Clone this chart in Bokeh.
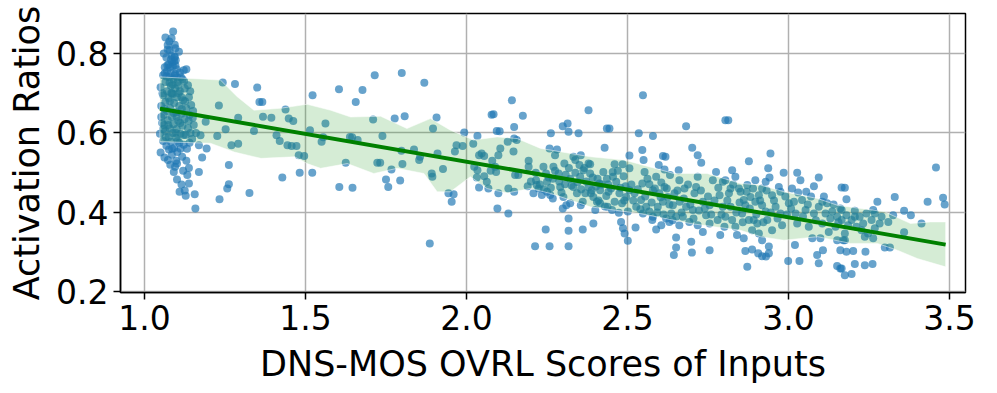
from bokeh.plotting import figure
from bokeh.models import Range1d, FixedTicker, PrintfTickFormatter
from bokeh.embed import file_html
from bokeh.resources import INLINE

# ---- data: scatter points, grouped by region (x = DNS-MOS OVRL, y = activation ratio)
cluster_x = [1.089,1.065,1.084,1.072,1.096,1.107,1.060,1.078,1.068,1.082,1.092,1.075,1.063,1.088,1.100,1.070,
             1.081,1.095,1.058,1.110,1.122,1.130,1.077,1.090,1.065,1.103,1.118,1.135,1.050,1.082,1.095,1.070,
             1.110,1.125,1.058,1.088,1.100,1.075,1.138,1.120,1.065,1.092,1.108,1.052,1.080,1.130,1.145,1.070,
             1.098,1.115,1.060,1.085,1.140,1.150,1.072,1.105,1.125,1.055,1.090,1.118,1.078,1.100,1.135,1.065,
             1.088,1.112,1.048,1.128,1.075,1.098,1.058,1.082,1.108,1.122,1.068,1.092,1.140,1.050,1.076,1.102,
             1.117,1.085,1.073,1.101,1.091,1.101,1.133,1.138,1.109,1.130,1.138,1.120,1.095,1.115,1.125,1.128,
             1.098,1.062,1.080,1.112,1.060,1.100,1.115,1.085,1.104,1.078,1.068,1.096,1.084,1.072,1.086,1.094,
             1.169,1.174,1.179,1.169,1.156,1.158,1.190,1.193,1.153,1.160,1.079,1.087,1.093,1.083,1.097,
             1.052,1.058,1.062,1.066,1.074,1.079,1.086,1.091,1.097,1.103,1.106,1.111,1.116,1.121,1.126,1.132,
             1.137,1.143,1.148,1.113,1.123,1.142,1.151,1.056,1.063,1.071,1.093,1.101,1.094,1.077]
cluster_y = [0.855,0.840,0.838,0.821,0.813,0.804,0.800,0.808,0.790,0.785,0.780,0.772,0.765,0.768,0.760,0.755,
             0.750,0.748,0.745,0.752,0.758,0.760,0.740,0.735,0.728,0.728,0.735,0.720,0.715,0.718,0.712,0.705,
             0.705,0.712,0.695,0.698,0.690,0.688,0.690,0.682,0.678,0.675,0.668,0.668,0.662,0.662,0.670,0.655,
             0.652,0.648,0.645,0.640,0.645,0.638,0.632,0.630,0.635,0.625,0.622,0.618,0.612,0.610,0.612,0.605,
             0.600,0.598,0.598,0.595,0.590,0.588,0.580,0.578,0.575,0.570,0.568,0.562,0.575,0.551,0.558,0.552,
             0.540,0.545,0.532,0.523,0.502,0.483,0.494,0.473,0.452,0.530,0.512,0.505,0.515,0.470,0.455,0.442,
             0.530,0.538,0.520,0.560,0.620,0.640,0.690,0.700,0.720,0.726,0.742,0.770,0.795,0.810,0.778,0.792,
             0.569,0.594,0.538,0.502,0.446,0.410,0.628,0.561,0.620,0.600,0.765,0.722,0.744,0.700,0.783,
             0.640,0.610,0.660,0.590,0.620,0.680,0.560,0.650,0.600,0.580,0.700,0.625,0.660,0.595,0.680,0.560,
             0.630,0.600,0.585,0.740,0.730,0.705,0.655,0.700,0.750,0.770,0.790,0.740,0.822,0.830]

left_x = [1.243,1.281,1.350,1.357,1.231,1.291,1.252,1.340,1.226,1.270,1.291,1.262,1.257,1.262,1.233,1.326,
          1.366,1.368,1.394,1.438,1.448,1.462,1.410,1.420,1.444,1.457,1.472,1.479,1.496,1.428,1.482,1.521,
          1.514,1.522,1.562,1.550,1.555,1.604,1.656,1.677,1.715,1.710,1.638,1.645,1.662,1.625,1.605,1.646,1.723]
left_y = [0.727,0.723,0.714,0.678,0.669,0.638,0.609,0.605,0.592,0.569,0.573,0.519,0.460,0.471,0.433,0.449,
          0.678,0.641,0.638,0.659,0.636,0.630,0.594,0.580,0.569,0.567,0.567,0.544,0.542,0.488,0.500,0.500,
          0.607,0.695,0.624,0.578,0.589,0.710,0.678,0.708,0.745,0.634,0.590,0.589,0.582,0.525,0.464,0.462,0.525]

mid_x = [1.799,1.869,1.777,1.808,1.907,1.896,1.739,1.993,2.034,2.078,1.732,1.750,1.757,1.767,1.794,1.801,
         1.798,1.837,1.853,1.856,1.910,1.927,1.892,1.894,1.969,1.964,1.988,2.021,1.944,1.960,1.954,1.886,
         2.039,2.047,2.055,2.024,2.034,2.032,2.055,2.063,2.039,2.068,2.080,2.075,
         2.141,2.175,2.084,2.094,2.103,2.148,2.148,2.156,2.128,2.105,2.099,2.089,2.092,2.146,2.151,2.161,
         2.130,2.148,2.099,2.096,2.130,2.193,2.193,2.190,2.216,2.218,2.239,2.247,2.250,2.258,2.281,2.275,
         2.262,2.270,2.268,2.250,2.234,2.260,2.268,2.299,2.314,2.317,2.348,2.304,2.306,2.301,2.310,2.299,
         2.322,2.317,2.317,2.317,2.258,2.213,2.246,2.361,2.394,2.332,2.338,2.355,2.351,2.379,2.384,2.363,
         2.353,2.343,2.361,2.355,2.379,2.436,2.429,2.379,2.389,2.407,2.413,2.405,2.415,2.400,2.436,2.434,
         2.438,2.208,2.224,2.286,2.322,2.332,2.369,2.394,2.415,2.425,2.441,2.384,2.291]
mid_y = [0.751,0.726,0.636,0.642,0.639,0.611,0.592,0.601,0.592,0.646,0.525,0.483,0.464,0.508,0.480,0.522,
         0.555,0.558,0.532,0.540,0.548,0.509,0.498,0.490,0.569,0.553,0.567,0.573,0.448,0.446,0.427,0.322,
         0.544,0.548,0.542,0.515,0.506,0.488,0.491,0.477,0.463,0.460,0.530,0.505,
         0.682,0.643,0.647,0.605,0.604,0.615,0.586,0.582,0.578,0.561,0.544,0.515,0.502,0.553,0.494,0.494,
         0.460,0.452,0.448,0.410,0.397,0.530,0.515,0.466,0.481,0.469,0.515,0.498,0.477,0.561,0.558,0.544,
         0.599,0.515,0.485,0.452,0.444,0.444,0.435,0.617,0.624,0.603,0.599,0.523,0.471,0.439,0.418,0.410,
         0.423,0.385,0.354,0.315,0.315,0.315,0.357,0.357,0.372,0.540,0.532,0.544,0.519,0.523,0.521,0.506,
         0.490,0.448,0.427,0.418,0.657,0.611,0.563,0.464,0.456,0.485,0.473,0.427,0.423,0.406,0.485,0.441,
         0.414,0.448,0.460,0.498,0.485,0.464,0.448,0.439,0.456,0.502,0.452,0.498,0.464]

right_x = [2.548,2.444,2.535,2.579,2.682,2.804,2.701,2.718,2.729,2.546,2.550,2.506,2.610,2.618,2.597,2.615,
           2.632,2.659,2.775,2.480,2.486,2.491,2.501,2.525,2.589,2.651,2.651,2.644,2.698,2.700,2.755,2.734,
           2.788,2.577,
           2.460,2.485,2.454,2.488,2.465,2.449,2.475,2.496,2.460,2.483,2.452,2.473,2.501,2.494,2.506,
           2.546,2.568,2.605,2.579,2.522,2.542,2.558,2.568,2.594,2.610,2.599,2.625,2.641,2.636,2.651,2.620,
           2.579,2.548,2.527,2.615,2.646,2.662,2.677,2.682,2.672,2.703,2.708,2.718,2.713,2.734,2.744,2.755,
           2.765,2.786,2.796,2.780,2.755,2.718,2.692,2.661,2.630,2.605,2.801,2.796,2.661,2.589,2.553,2.506]
right_y = [0.695,0.611,0.599,0.592,0.617,0.632,0.563,0.544,0.525,0.557,0.532,0.543,0.542,0.540,0.519,0.508,
           0.494,0.506,0.502,0.376,0.360,0.347,0.329,0.362,0.357,0.337,0.312,0.293,0.326,0.299,0.305,0.351,
           0.343,0.381,
           0.521,0.521,0.502,0.491,0.477,0.460,0.448,0.439,0.427,0.423,0.406,0.399,0.402,0.466,0.456,
           0.473,0.471,0.475,0.456,0.448,0.431,0.414,0.402,0.414,0.427,0.448,0.439,0.418,0.397,0.389,0.385,
           0.389,0.397,0.414,0.464,0.448,0.427,0.460,0.414,0.389,0.406,0.448,0.490,0.464,0.427,0.393,0.418,
           0.481,0.443,0.414,0.381,0.372,0.368,0.376,0.368,0.376,0.368,0.364,0.477,0.481,0.490,0.502,0.511]

far_x = [2.813,2.877,2.944,2.937,2.941,2.929,2.825,2.835,2.872,2.851,2.985,3.027,3.037,3.094,3.079,3.055,
         3.011,2.975,3.165,2.866,2.872,2.887,2.906,2.918,2.930,2.939,2.939,2.861,2.840,2.999,3.034,3.094,
         3.089,3.107,3.020,3.074,3.151,3.161,3.161,
         2.804,2.815,2.820,2.804,2.825,2.835,2.856,2.866,2.861,2.882,2.897,2.908,2.918,2.892,2.903,2.877,
         2.887,2.908,2.918,2.934,2.929,2.949,2.960,2.975,2.980,2.949,3.001,3.017,3.022,3.027,3.042,3.053,
         3.063,3.079,3.094,3.105,3.115,3.105,3.120,3.136,3.151,3.161,3.146,3.125,3.099,3.151,2.820,2.846,
         2.918,2.970,2.897]
far_y = [0.632,0.529,0.548,0.511,0.488,0.477,0.506,0.490,0.469,0.452,0.500,0.500,0.481,0.488,0.466,0.452,
         0.460,0.452,0.463,0.303,0.263,0.307,0.297,0.290,0.289,0.297,0.314,0.335,0.343,0.278,0.278,0.272,
         0.293,0.305,0.318,0.335,0.265,0.259,0.305,
         0.481,0.448,0.414,0.389,0.381,0.364,0.397,0.418,0.431,0.439,0.427,0.443,0.418,0.381,0.372,0.381,
         0.355,0.347,0.330,0.381,0.402,0.443,0.414,0.397,0.368,0.355,0.423,0.427,0.397,0.372,0.431,0.406,
         0.364,0.397,0.414,0.427,0.397,0.372,0.423,0.402,0.389,0.410,0.364,0.351,0.335,0.330,0.460,0.460,
         0.460,0.464,0.481]

end_x = [3.458,3.480,3.485,3.432,3.413,3.380,3.359,3.330,3.325,3.359,3.310,3.276,3.263,3.289,3.175,3.180,
         3.206,3.206,3.232,3.237,3.263,3.299,3.315,3.239,3.201,3.180,3.206,3.237,3.261,3.165,3.175,3.196,
         3.175,3.165,3.180,3.196,3.211,3.227,3.247,3.258,3.268,3.221,3.185,3.175,3.165,3.170,3.242,3.268,3.283]
end_y = [0.513,0.437,0.420,0.427,0.372,0.393,0.404,0.439,0.393,0.350,0.376,0.427,0.406,0.389,0.462,0.433,
         0.404,0.389,0.372,0.339,0.335,0.312,0.312,0.301,0.303,0.301,0.270,0.267,0.270,0.259,0.242,0.245,
         0.330,0.406,0.393,0.381,0.364,0.355,0.347,0.381,0.360,0.389,0.368,0.347,0.381,0.330,0.397,0.397,0.372]

dense_x = [2.200,2.215,2.228,2.240,2.255,2.262,2.275,2.288,2.295,2.308,2.318,2.326,2.338,2.345,2.356,2.366,
           2.372,2.386,2.392,2.402,2.410,2.420,2.430,2.440,
           2.455,2.470,2.478,2.490,2.512,2.518,2.532,2.540,2.555,2.562,2.575,2.585,2.592,2.603,2.612,2.622,
           2.630,2.640,2.655,2.668,2.675,2.688,2.695,2.705,2.722,2.728,2.740,2.750,2.760,2.770,2.782,2.792,
           2.810,2.828,2.838,2.848,2.858,2.870,2.880,2.890,2.900,2.912,2.922,2.932,2.945,2.955,2.966,2.990,
           2.995,3.008,3.030,3.045,3.060,3.070,3.085,3.110,3.130,3.140,3.155]
dense_y = [0.478,0.500,0.470,0.458,0.488,0.462,0.505,0.478,0.450,0.495,0.512,0.468,0.500,0.476,0.458,0.512,
           0.478,0.448,0.488,0.465,0.430,0.470,0.415,0.470,
           0.490,0.505,0.462,0.430,0.470,0.430,0.458,0.408,0.440,0.485,0.425,0.460,0.400,0.438,0.395,0.460,
           0.420,0.380,0.455,0.400,0.435,0.470,0.420,0.385,0.405,0.455,0.410,0.440,0.395,0.430,0.462,0.395,
           0.430,0.470,0.400,0.425,0.375,0.452,0.410,0.460,0.395,0.430,0.375,0.455,0.400,0.430,0.385,0.440,
           0.395,0.410,0.450,0.390,0.420,0.440,0.380,0.440,0.385,0.420,0.375]

# ---- data: shaded band (upper and lower edges) and regression line
band_upper_x = [1.048,1.236,1.288,1.340,1.422,1.505,1.578,1.640,1.733,1.815,1.888,1.950,2.022,2.095,2.157,
                2.230,2.385,2.489,2.644,2.747,2.851,2.913,2.986,3.090,3.152,3.224,3.297,3.379,3.441,3.488]
band_upper_y = [0.741,0.733,0.691,0.657,0.662,0.672,0.657,0.640,0.642,0.611,0.636,0.607,0.582,0.590,0.586,
                0.561,0.540,0.532,0.498,0.498,0.473,0.469,0.452,0.435,0.418,0.410,0.402,0.372,0.376,0.376]
band_lower_x = [1.048,1.205,1.279,1.362,1.466,1.505,1.547,1.630,1.712,1.785,1.868,1.909,1.950,2.012,2.064,
                2.126,2.198,2.260,2.385,2.540,2.696,2.851,2.913,2.986,3.090,3.193,3.276,3.338,3.400,3.488]
band_lower_y = [0.578,0.574,0.552,0.536,0.540,0.523,0.511,0.523,0.498,0.511,0.498,0.452,0.452,0.490,0.460,
                0.449,0.460,0.448,0.414,0.397,0.372,0.355,0.339,0.330,0.339,0.322,0.322,0.305,0.284,0.263]

fit_x = [1.048, 3.488]
fit_y = [0.661, 0.319]

x_ticks = [1.0, 1.5, 2.0, 2.5, 3.0, 3.5]
y_ticks = [0.2, 0.4, 0.6, 0.8]

FONT = "DejaVu Sans"

p = figure(width=985, height=390, output_backend="svg", toolbar_location=None,
           x_range=Range1d(0.9255, 3.5497), y_range=Range1d(0.1985, 0.9005),
           min_border_left=120, min_border_right=20, min_border_top=13, min_border_bottom=98)

p.background_fill_color = "white"
p.border_fill_color = "white"
p.outline_line_color = "black"
p.outline_line_width = 1.5

# grid
p.xgrid.ticker = FixedTicker(ticks=x_ticks)
p.ygrid.ticker = FixedTicker(ticks=y_ticks)
for g in (p.xgrid, p.ygrid):
    g.grid_line_color = "#b0b0b0"
    g.grid_line_width = 1.5

# scatter
all_x = cluster_x + left_x + mid_x + right_x + far_x + end_x + dense_x
all_y = cluster_y + left_y + mid_y + right_y + far_y + end_y + dense_y
p.scatter(all_x, all_y, size=8, fill_color="#1f77b4", fill_alpha=0.68, line_color=None)

# band
band_xs = band_upper_x + band_lower_x[::-1]
band_ys = band_upper_y + band_lower_y[::-1]
p.patch(band_xs, band_ys, fill_color="#2ca02c", fill_alpha=0.2,
        line_color="white", line_alpha=0.5, line_width=1)

# regression line
p.line(fit_x, fit_y, line_color="green", line_width=4)

# axes
p.xaxis.ticker = FixedTicker(ticks=x_ticks)
p.yaxis.ticker = FixedTicker(ticks=y_ticks)
p.xaxis.formatter = PrintfTickFormatter(format="%.1f")
p.yaxis.formatter = PrintfTickFormatter(format="%.1f")
p.xaxis.axis_label = "DNS-MOS OVRL Scores of Inputs"
p.yaxis.axis_label = "Activation Ratios"
for ax in (p.xaxis[0], p.yaxis[0]):
    ax.axis_label_text_font = FONT
    ax.axis_label_text_font_size = "35px"
    ax.axis_label_text_font_style = "normal"
    ax.axis_label_text_color = "black"
    ax.major_label_text_font = FONT
    ax.major_label_text_font_size = "33px"
    ax.major_label_text_color = "black"
    ax.axis_line_color = "black"
    ax.axis_line_width = 1.5
    ax.major_tick_line_color = "black"
    ax.major_tick_line_width = 1.5
    ax.major_tick_out = 7
    ax.major_tick_in = 0
    ax.minor_tick_line_color = None
p.xaxis.axis_label_standoff = 11
p.yaxis.axis_label_standoff = 6
p.xaxis.major_label_standoff = 5
p.yaxis.major_label_standoff = 5

open("out.html", "w").write(file_html(p, INLINE))
